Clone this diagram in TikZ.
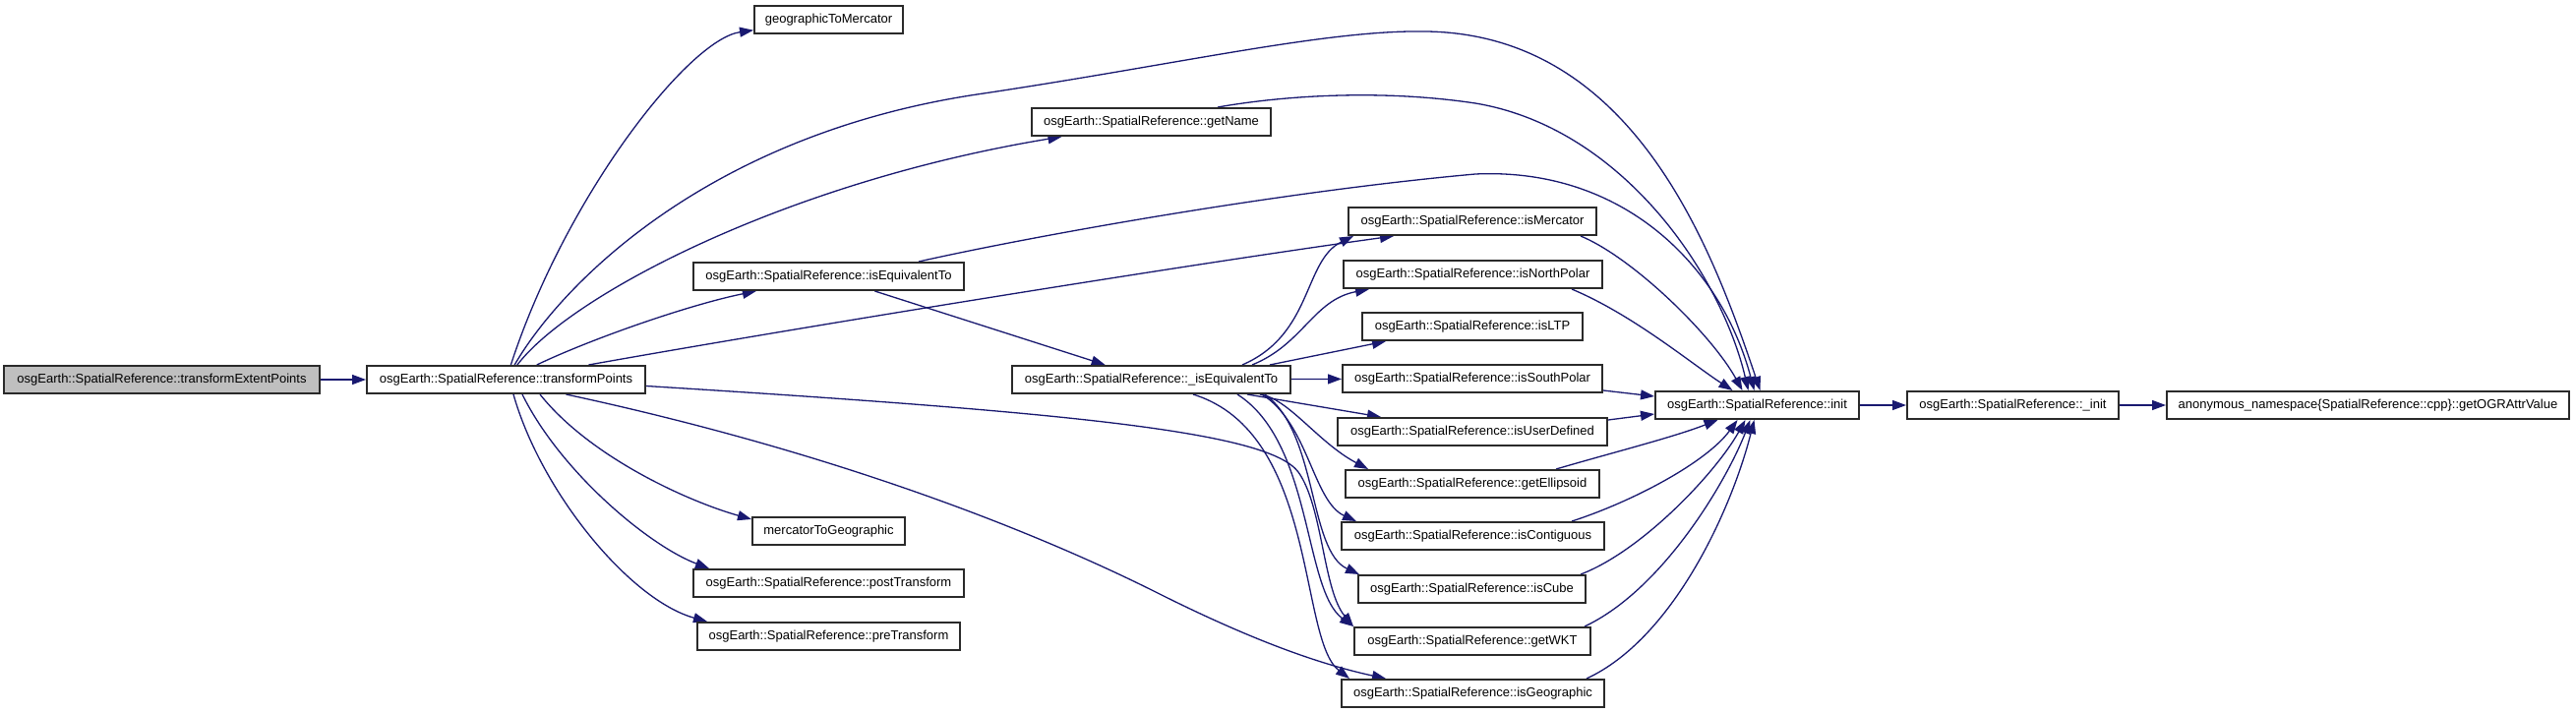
\documentclass[tikz,border=0pt]{standalone}
\usepackage{fontspec}
\setmainfont{Liberation Sans}
\usetikzlibrary{arrows.meta,backgrounds}
\definecolor{edgeblue}{HTML}{191970}
\definecolor{boxgray}{HTML}{BFBFBF}
\definecolor{boxline}{HTML}{2A2A2A}
\tikzset{
  box/.style={draw=boxline, line width=2pt, fill=white, minimum height=28pt, inner sep=0pt, font=\fontsize{13}{15}\selectfont},
  edge/.style={draw=edgeblue, line width=1.3pt, -{Triangle[length=14pt,width=10pt]}},
}
\begin{document}
\begin{tikzpicture}[x=1pt,y=-1pt]
\useasboundingbox (0,0) rectangle (2619,725);
% nodes
\node[box, minimum width=321pt, fill=boxgray] (tep) at (164.5,386) {osgEarth::SpatialReference::transformExtentPoints};
\node[box, minimum width=283pt] (tp) at (514.5,386) {osgEarth::SpatialReference::transformPoints};
\node[box, minimum width=151pt] (gtm) at (842.5,20) {geographicToMercator};
\node[box, minimum width=243pt] (getName) at (1170.5,124) {osgEarth::SpatialReference::getName};
\node[box, minimum width=275pt] (isEq) at (842.5,281) {osgEarth::SpatialReference::isEquivalentTo};
\node[box, minimum width=283pt] (isEqP) at (1170.5,386) {osgEarth::SpatialReference::\_isEquivalentTo};
\node[box, minimum width=155pt] (mtg) at (842.5,540) {mercatorToGeographic};
\node[box, minimum width=275pt] (postT) at (842.5,593) {osgEarth::SpatialReference::postTransform};
\node[box, minimum width=267pt] (preT) at (842.5,647) {osgEarth::SpatialReference::preTransform};
\node[box, minimum width=252pt] (isMerc) at (1497,225) {osgEarth::SpatialReference::isMercator};
\node[box, minimum width=263pt] (isNP) at (1497.5,279) {osgEarth::SpatialReference::isNorthPolar};
\node[box, minimum width=224pt] (isLTP) at (1497,332) {osgEarth::SpatialReference::isLTP};
\node[box, minimum width=264pt] (isSP) at (1497,385) {osgEarth::SpatialReference::isSouthPolar};
\node[box, minimum width=274pt] (isUD) at (1497,439) {osgEarth::SpatialReference::isUserDefined};
\node[box, minimum width=258pt] (getEll) at (1497,492) {osgEarth::SpatialReference::getEllipsoid};
\node[box, minimum width=267pt] (isCont) at (1497.5,545) {osgEarth::SpatialReference::isContiguous};
\node[box, minimum width=231pt] (isCube) at (1496.5,599) {osgEarth::SpatialReference::isCube};
\node[box, minimum width=240pt] (getWKT) at (1497,652) {osgEarth::SpatialReference::getWKT};
\node[box, minimum width=267pt] (isGeo) at (1497.5,705) {osgEarth::SpatialReference::isGeographic};
\node[box, minimum width=207pt] (init) at (1786.5,412) {osgEarth::SpatialReference::init};
\node[box, minimum width=215pt] (initP) at (2046.5,412) {osgEarth::SpatialReference::\_init};
\node[box, minimum width=409pt] (ogr) at (2407.5,412) {anonymous\_namespace\{SpatialReference::cpp\}::getOGRAttrValue};
\begin{pgfonlayer}{background}
\fill[white] (0,0) rectangle (2619,725);
% from transformExtentPoints
\draw[edge] (tep) -- (tp);
% from transformPoints
\draw[edge] (tp) .. controls (575,200) and (700,40) .. (gtm);
\draw[edge] (tp) .. controls (570,290) and (720,135) .. (1000,95) .. controls (1200,65) and (1350,30) .. (1450,32) .. controls (1660,35) and (1740,250) .. ([xshift=3pt]init.north);
\draw[edge] (tp) .. controls (580,300) and (800,185) .. (getName);
\draw[edge] (tp) .. controls (600,345) and (700,310) .. (isEq);
\draw[edge] (tp) .. controls (800,335) and (1200,270) .. ([xshift=47pt]isMerc.south west);
\draw[edge] ([yshift=-6.5pt]tp.east) .. controls (1100,420) and (1290,440) .. (1320,480) .. controls (1345,515) and (1345,600) .. (getWKT.north west);
\draw[edge] ([xshift=61pt]tp.south) .. controls (850,460) and (1050,540) .. (1171,600) .. controls (1270,650) and (1340,675) .. ([xshift=46pt]isGeo.north west);
\draw[edge] ([xshift=34.5pt]tp.south) .. controls (600,465) and (700,510) .. ([yshift=-3pt]mtg.north west);
\draw[edge] ([xshift=16.5pt]tp.south) .. controls (570,480) and (660,555) .. ([xshift=17pt]postT.north west);
\draw[edge] ([xshift=7.5pt]tp.south) .. controls (550,500) and (640,610) .. ([xshift=11pt]preT.north west);
% getName, isEquivalentTo
\draw[edge] ([xshift=67.5pt]getName.north) .. controls (1300,98) and (1400,90) .. (1500,105) .. controls (1650,130) and (1750,280) .. ([xshift=-9pt]init.north);
\draw[edge] ([xshift=91.5pt]isEq.north) .. controls (1050,240) and (1300,195) .. (1500,177) .. controls (1650,170) and (1750,270) .. ([xshift=-3pt]init.north);
\draw[edge] (isEq) -- (isEqP);
% from _isEquivalentTo
\draw[edge] ([xshift=-50pt]isEqP.north east) .. controls (1335,340) and (1325,265) .. ([xshift=6pt]isMerc.south west);
\draw[edge] ([xshift=-40pt]isEqP.north east) .. controls (1325,350) and (1335,305) .. ([xshift=27pt]isNP.south west);
\draw[edge] ([xshift=-22pt]isEqP.north east) -- ([xshift=25pt]isLTP.south west);
\draw[edge] (isEqP) -- (isSP);
\draw[edge] ([xshift=-45pt]isEqP.south east) -- ([xshift=45pt]isUD.north west);
\draw[edge] ([xshift=-32pt]isEqP.south east) .. controls (1310,405) and (1340,450) .. ([xshift=24pt]getEll.north west);
\draw[edge] ([xshift=-30pt]isEqP.south east) .. controls (1330,430) and (1335,510) .. ([xshift=16pt]isCont.north west);
\draw[edge] ([xshift=-27pt]isEqP.south east) .. controls (1340,440) and (1330,560) .. ([xshift=2pt]isCube.north west);
\draw[edge] ([xshift=-55pt]isEqP.south east) .. controls (1335,450) and (1325,600) .. (getWKT.north west);
\draw[edge] ([xshift=-100pt]isEqP.south east) .. controls (1340,440) and (1320,650) .. ([xshift=9pt]isGeo.north west);
% into init
\draw[edge] ([xshift=-17pt]isMerc.south east) .. controls (1660,262) and (1740,340) .. ([xshift=-15pt]init.north);
\draw[edge] ([xshift=-32pt]isNP.south east) .. controls (1660,320) and (1720,370) .. ([xshift=-25pt]init.north);
\draw[edge] ([yshift=-12pt]isSP.east) -- ([yshift=9pt]init.west);
\draw[edge] ([yshift=12pt]isUD.east) -- ([yshift=-9pt]init.west);
\draw[edge] ([xshift=-45pt]getEll.north east) .. controls (1640,460) and (1700,445) .. ([xshift=-40pt]init.south);
\draw[edge] ([xshift=-34pt]isCont.north east) .. controls (1660,510) and (1735,470) .. ([xshift=-20pt]init.south);
\draw[edge] ([xshift=-6pt]isCube.north east) .. controls (1670,560) and (1745,480) .. ([xshift=-12pt]init.south);
\draw[edge] ([xshift=-7pt]getWKT.north east) .. controls (1690,600) and (1755,490) .. ([xshift=-7pt]init.south);
\draw[edge] ([xshift=-19pt]isGeo.north east) .. controls (1700,650) and (1760,520) .. ([xshift=-3pt]init.south);
\draw[edge] (init) -- (initP);
\draw[edge] (initP) -- (ogr);
\end{pgfonlayer}
\end{tikzpicture}
\end{document}
